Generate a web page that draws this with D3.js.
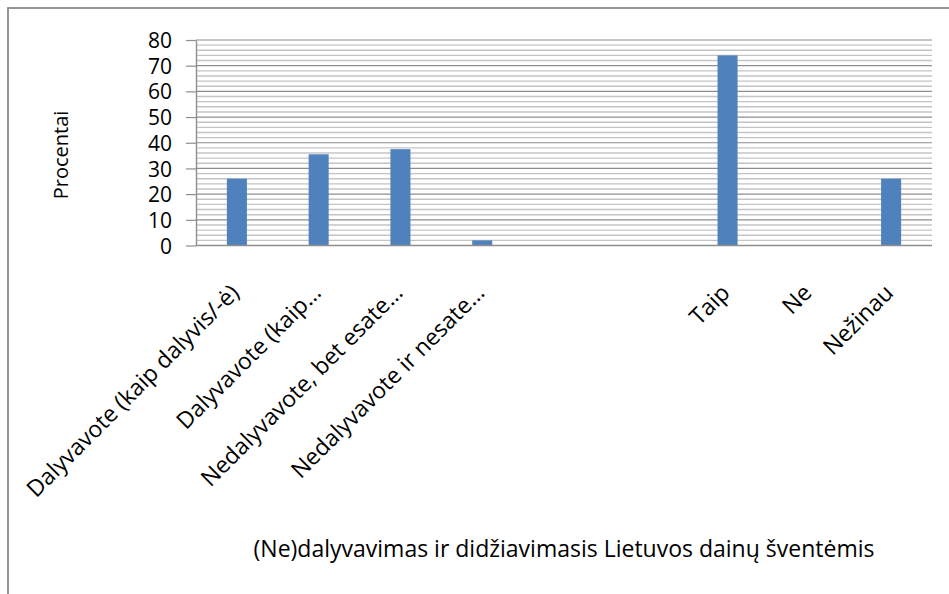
<!DOCTYPE html>
<html>
<head>
<meta charset="utf-8">
<script src="https://cdnjs.cloudflare.com/ajax/libs/d3/7.8.5/d3.min.js"></script>
<style>
    body { margin: 0; background: #fff; }
    svg text { font-family: "Open Sans", sans-serif; fill: #000; }
</style>
</head>
<body>
<svg class="barChart"></svg>
<script>
// categories (two empty slots between the groups, like in the original)
var categories = [
    "Dalyvavote (kaip dalyvis/-ė)",
    "Dalyvavote (kaip…",
    "Nedalyvavote, bet esate…",
    "Nedalyvavote ir nesate…",
    "",
    "",
    "Taip",
    "Ne",
    "Nežinau"
]
var values = [26, 35.5, 37.5, 2, null, null, 74, 0, 26]
var yTicks = [0, 10, 20, 30, 40, 50, 60, 70, 80]
var yMinor = [2, 4, 6, 8, 12, 14, 16, 18, 22, 24, 26, 28, 32, 34, 36, 38, 42, 44, 46, 48, 52, 54, 56, 58, 62, 64, 66, 68, 72, 74, 76, 78]
var yTitle = "Procentai"
var xTitle = "(Ne)dalyvavimas ir didžiavimasis Lietuvos dainų šventėmis"

var W = 949, H = 594;
var margin = {top: 40, left: 196};
var width = 736;
var height = 205.5;

var svg = d3.select(".barChart")
    .attr("width", W)
    .attr("height", H)

// outer chart frame (runs off the right and bottom edge)
svg.append("rect")
    .attr("x", 8)
    .attr("y", 8)
    .attr("width", W + 20)
    .attr("height", H + 20)
    .attr("fill", "none")
    .attr("stroke", "#8c8c8c")
    .attr("stroke-width", 1.8)

var g = svg.append("g")
    .attr("transform", "translate(" + margin.left + "," + margin.top + ")");

var xScale = d3.scaleBand()
    .domain(d3.range(categories.length))
    .range([0, width])
    .paddingInner(0.755)
    .paddingOuter(0.3775)

var yScale = d3.scaleLinear()
    .domain([0, 80])
    .range([height, 0])

// minor grid
g.append("g")
    .attr("class", "minor-grid")
    .selectAll("line")
    .data(yMinor)
    .enter().append("line")
    .attr("x1", 0)
    .attr("x2", width)
    .attr("y1", function(d){ return yScale(d) })
    .attr("y2", function(d){ return yScale(d) })
    .attr("stroke", "#c4c4c4")
    .attr("stroke-width", 1.4)

// major grid
g.append("g")
    .attr("class", "major-grid")
    .selectAll("line")
    .data(yTicks.slice(1))
    .enter().append("line")
    .attr("x1", 0)
    .attr("x2", width)
    .attr("y1", function(d){ return yScale(d) })
    .attr("y2", function(d){ return yScale(d) })
    .attr("stroke", "#8e8e8e")
    .attr("stroke-width", 1.2)

// y axis
var yAxis = g.append("g")
    .attr("class", "y axis")
    .call(d3.axisLeft(yScale)
        .tickValues(yTicks)
        .tickSize(10)
        .tickPadding(14)
        .tickSizeOuter(0))
yAxis.select(".domain").attr("stroke", "#8e8e8e").attr("stroke-width", 1.4)
yAxis.selectAll(".tick line").attr("stroke", "#8e8e8e").attr("stroke-width", 1.2)
yAxis.selectAll(".tick text")
    .style("font-size", "21px")
    .attr("dy", "0.36em")

// bars (skip the empty slots)
var barData = values.map(function(v, i){ return {i: i, v: v} })
    .filter(function(d){ return d.v !== null })

g.selectAll(".bar")
    .data(barData)
    .enter().append("rect")
    .attr("class", "bar")
    .attr("x", function(d){ return xScale(d.i) })
    .attr("y", function(d){ return yScale(d.v) })
    .attr("width", xScale.bandwidth())
    .attr("height", function(d){ return height - yScale(d.v) })
    .attr("fill", "#4f81bd")

// x axis line
g.append("line")
    .attr("x1", 0)
    .attr("x2", width)
    .attr("y1", height)
    .attr("y2", height)
    .attr("stroke", "#8e8e8e")
    .attr("stroke-width", 1.4)

// category labels, rotated
g.append("g")
    .attr("class", "x labels")
    .selectAll("text")
    .data(categories)
    .enter().append("text")
    .attr("transform", function(d, i){
        var cx = xScale(i) + xScale.bandwidth() / 2 - 2
        return "translate(" + cx + "," + (height + 43) + ") rotate(-45)"
    })
    .attr("text-anchor", "end")
    .attr("dy", "0.35em")
    .style("font-size", "23px")
    .text(function(d){ return d })

// axis titles
svg.append("text")
    .attr("transform", "translate(68,155) rotate(-90)")
    .attr("text-anchor", "middle")
    .style("font-size", "20px")
    .text(yTitle)

svg.append("text")
    .attr("x", margin.left + width / 2)
    .attr("y", 557)
    .attr("text-anchor", "middle")
    .style("font-size", "23px")
    .text(xTitle)
</script>
</body>
</html>
